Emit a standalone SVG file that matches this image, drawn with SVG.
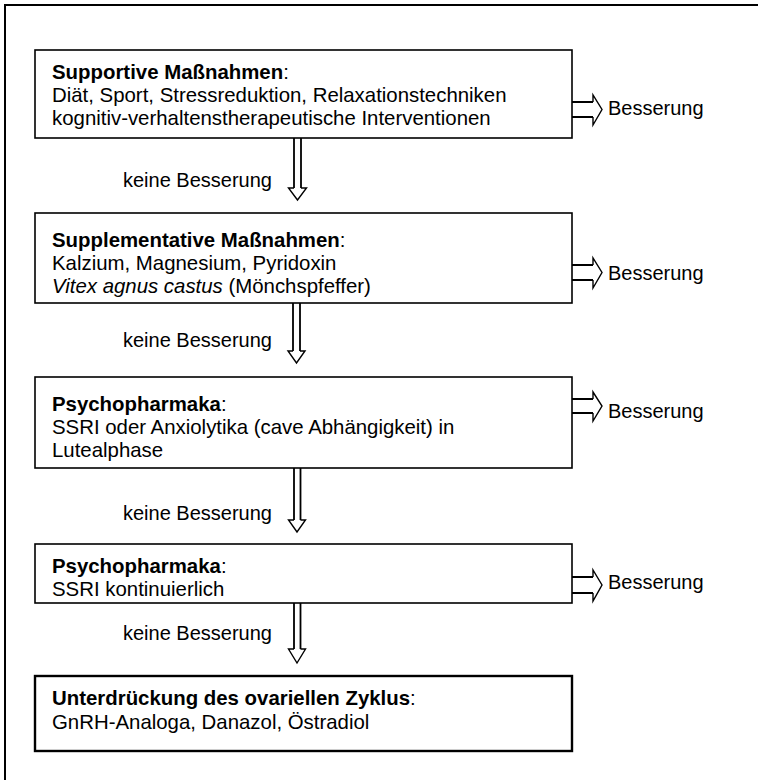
<svg xmlns="http://www.w3.org/2000/svg" width="758" height="780" viewBox="0 0 758 780">
<style>
text{font-family:"Liberation Sans",Arial,sans-serif;font-size:20px;fill:#000}
.t{font-size:20.4px}
.b{font-weight:bold}
.i{font-style:italic}
.box{fill:#fff;stroke:#000;stroke-width:1.6}
.frame{fill:none;stroke:#000;stroke-width:2}
.shaft{fill:none;stroke:#000;stroke-width:1.8}
.head{fill:none;stroke:#000;stroke-width:1.4;stroke-linejoin:miter}
</style>
<rect width="758" height="780" fill="#fff"/>
<path class="frame" d="M5,780 V5 H758"/>
<g id="n1">
<rect class="box" x="35" y="50" width="537" height="88"/>
<text class="t" x="52" y="79"><tspan class="b">Supportive Maßnahmen</tspan>:</text>
<text class="t" x="52" y="102">Diät, Sport, Stressreduktion, Relaxationstechniken</text>
<text class="t" x="52" y="125">kognitiv-verhaltenstherapeutische Interventionen</text>
</g>
<g id="n2">
<rect class="box" x="35" y="213" width="537" height="90"/>
<text class="t" x="52" y="247"><tspan class="b">Supplementative Maßnahmen</tspan>:</text>
<text class="t" x="52" y="270">Kalzium, Magnesium, Pyridoxin</text>
<text class="t" x="52" y="293"><tspan class="i">Vitex agnus castus</tspan> (Mönchspfeffer)</text>
</g>
<g id="n3">
<rect class="box" x="35" y="377" width="537" height="91"/>
<text class="t" x="52" y="411"><tspan class="b">Psychopharmaka</tspan>:</text>
<text class="t" x="52" y="434">SSRI oder Anxiolytika (cave Abhängigkeit) in</text>
<text class="t" x="52" y="457">Lutealphase</text>
</g>
<g id="n4">
<rect class="box" x="35" y="544" width="537" height="59"/>
<text class="t" x="52" y="573"><tspan class="b">Psychopharmaka</tspan>:</text>
<text class="t" x="52" y="596">SSRI kontinuierlich</text>
</g>
<g id="n5">
<rect class="box" x="35" y="676" width="537" height="75" style="stroke-width:2.4"/>
<text class="t" x="52" y="705"><tspan class="b">Unterdrückung des ovariellen Zyklus</tspan>:</text>
<text class="t" x="52" y="729">GnRH-Analoga, Danazol, Östradiol</text>
</g>
<g id="connectors">
<g id="down1">
<path class="shaft" d="M294,138 V188 M301,138 V188"/>
<path class="head" d="M294,188 H288.5 L297.5,200 L306.5,188 H301"/>
<text x="123" y="187">keine Besserung</text>
</g>
<g id="down2">
<path class="shaft" d="M293,303 V351 M300,303 V351"/>
<path class="head" d="M293,351 H288 L296.5,363 L305,351 H300"/>
<text x="123" y="347">keine Besserung</text>
</g>
<g id="down3">
<path class="shaft" d="M294,468 V520 M300.5,468 V520"/>
<path class="head" d="M294,520 H288.5 L297,532 L305.5,520 H300.5"/>
<text x="123" y="520">keine Besserung</text>
</g>
<g id="down4">
<path class="shaft" d="M294,603 V649 M300.5,603 V649"/>
<path class="head" d="M294,649 H288.5 L297,663 L305.5,649 H300.5"/>
<text x="123" y="640">keine Besserung</text>
</g>
<g id="right1">
<path class="shaft" d="M572,102 H593 M572,117 H593"/>
<path class="head" d="M593,102 V95 L602,109.5 L593,125 V117"/>
<text x="608" y="115">Besserung</text>
</g>
<g id="right2">
<path class="shaft" d="M572,265 H593 M572,280 H593"/>
<path class="head" d="M593,265 V258 L602,272.5 L593,288 V280"/>
<text x="608" y="280">Besserung</text>
</g>
<g id="right3">
<path class="shaft" d="M572,399 H593 M572,413 H593"/>
<path class="head" d="M593,399 V392 L602,406 L593,421 V413"/>
<text x="608" y="418">Besserung</text>
</g>
<g id="right4">
<path class="shaft" d="M572,577 H593 M572,593 H593"/>
<path class="head" d="M593,577 V570 L602,585 L593,601 V593"/>
<text x="608" y="589">Besserung</text>
</g>
</g>
</svg>
